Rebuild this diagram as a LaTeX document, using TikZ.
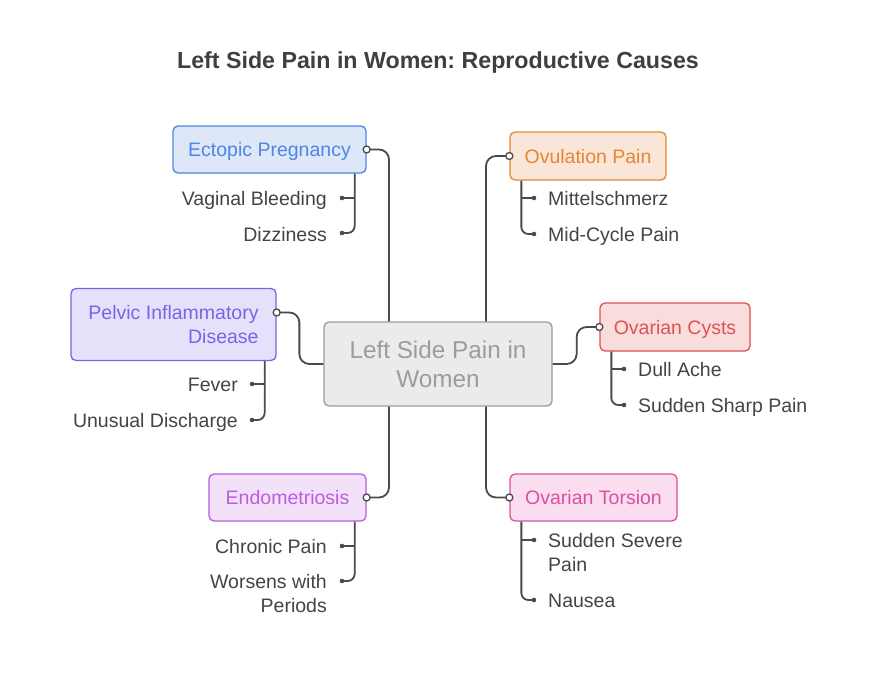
\documentclass[tikz,border=0pt]{standalone}
\usepackage{fontspec}
\setmainfont{Liberation Sans}
\usetikzlibrary{positioning}
\frenchspacing

\definecolor{linec}{HTML}{4A4A4A}
\definecolor{leafc}{HTML}{444444}
\definecolor{titlec}{HTML}{3F3F3F}
\definecolor{cenline}{HTML}{9C9C9C}
\definecolor{cenfill}{HTML}{EBEBEB}
\definecolor{epline}{HTML}{4C86E6}
\definecolor{epfill}{HTML}{DDE7F8}
\definecolor{ovline}{HTML}{E5872F}
\definecolor{ovfill}{HTML}{FAE6D8}
\definecolor{pidline}{HTML}{7B62E8}
\definecolor{pidfill}{HTML}{E6E1FB}
\definecolor{ocline}{HTML}{E05252}
\definecolor{ocfill}{HTML}{F9DCDC}
\definecolor{enline}{HTML}{BE5BE0}
\definecolor{enfill}{HTML}{F3E0F9}
\definecolor{otline}{HTML}{DD4FA0}
\definecolor{otfill}{HTML}{FADDEE}

\begin{document}
\begin{tikzpicture}[x=1pt,y=-1pt,
    box/.style={draw, rounded corners=5pt, line width=1.3pt, minimum height=47pt,
      inner sep=0pt, align=right, font=\fontsize{19.5}{24}\selectfont},
    onebox/.style={box, text height=14pt, text depth=0pt},
    leaf/.style={text=leafc, inner sep=0pt, font=\fontsize{19.5}{24}\selectfont},
    link/.style={draw=linec, line width=1.8pt, rounded corners=10pt},
    sublink/.style={draw=linec, line width=1.8pt, rounded corners=7pt},
    hole/.style={draw=linec, fill=white, line width=1.3pt},
    dot/.style={fill=linec}]
    % Fondo
    \fill[white] (0,0) rectangle (876,696);

    % Titulo
    \node[text=titlec, font=\bfseries\fontsize{23.2}{27}\selectfont] (title) at (438,63)
      {Left Side Pain in Women: Reproductive Causes};

    % Nodo central
    \node[box, fill=cenfill, draw=cenline, text=cenline, minimum width=228pt,
      minimum height=84pt, align=center, font=\fontsize{24.3}{29}\selectfont]
      (cen) at (438,364) {Left Side Pain in\\Women};

    % Causas
    \node[onebox, fill=epfill, draw=epline, text=epline, minimum width=193pt] (ep) at (269.5,149.5) {Ectopic Pregnancy};
    \node[onebox, fill=ovfill, draw=ovline, text=ovline, minimum width=156pt, minimum height=48pt] (ov) at (588,156) {Ovulation Pain};
    \node[box, fill=pidfill, draw=pidline, text=pidline, minimum width=205pt, minimum height=72pt] (pid) at (173.5,324.5) {Pelvic Inflammatory\\Disease};
    \node[onebox, fill=ocfill, draw=ocline, text=ocline, minimum width=150pt, minimum height=48pt] (oc) at (675,327) {Ovarian Cysts};
    \node[onebox, fill=enfill, draw=enline, text=enline, minimum width=157pt] (en) at (287.5,497.5) {Endometriosis};
    \node[onebox, fill=otfill, draw=otline, text=otline, minimum width=167pt] (ot) at (593.5,497.5) {Ovarian Torsion};

    % Sintomas (izquierda)
    \coordinate (vbd) at (342,198);
    \coordinate (dzd) at (342,233);
    \node[leaf, anchor=base east] (vb) at (327,205.5) {Vaginal Bleeding};
    \node[leaf, anchor=base east] (dz) at (327,241.5) {Dizziness};
    \coordinate (fvd) at (252,384);
    \coordinate (udd) at (252,420);
    \node[leaf, anchor=base east] (fv) at (238,391.5) {Fever};
    \node[leaf, anchor=base east] (ud) at (238,427.5) {Unusual Discharge};
    \coordinate (cpd) at (342,546);
    \coordinate (wpd) at (342,581);
    \node[leaf, anchor=base east] (cp) at (327,553.5) {Chronic Pain};
    \node[leaf, anchor=base east, align=right] (wp) at (327,612.5) {Worsens with\\Periods};

    % Sintomas (derecha)
    \coordinate (mid) at (534,198);
    \coordinate (mcd) at (534,234);
    \node[leaf, anchor=base west] (mi) at (548,205.5) {Mittelschmerz};
    \node[leaf, anchor=base west] (mc) at (548,241.5) {Mid-Cycle Pain};
    \coordinate (dad) at (624,369);
    \coordinate (ssd) at (624,405);
    \node[leaf, anchor=base west] (da) at (638,376.5) {Dull Ache};
    \node[leaf, anchor=base west] (ss) at (638,412.5) {Sudden Sharp Pain};
    \coordinate (svd) at (534,540);
    \coordinate (nad) at (534,600);
    \node[leaf, anchor=base west, align=left] (sv) at (548,571.5) {Sudden Severe\\Pain};
    \node[leaf, anchor=base west] (na) at (548,607.5) {Nausea};

    % Conexiones principales
    \draw[link] (ep.east) -| ([xshift=-49pt]cen.north);
    \draw[link] (ov.west) -| ([xshift=48pt]cen.north);
    \draw[link] ([yshift=12pt]pid.east) -| ([xshift=-24pt]cen.west) -- (cen.west);
    \draw[link] (oc.west) -| ([xshift=24pt]cen.east) -- (cen.east);
    \draw[link] (en.east) -| ([xshift=-49pt]cen.south);
    \draw[link] (ot.west) -| ([xshift=48pt]cen.south);

    % Conexiones secundarias
    \draw[sublink] ([xshift=-12pt]ep.south east) |- (dzd);
    \draw[sublink] ([xshift=-12pt]ep.south east |- vbd) -- (vbd);
    \draw[sublink] ([xshift=12pt]ov.south west) |- (mcd);
    \draw[sublink] ([xshift=12pt]ov.south west |- mid) -- (mid);
    \draw[sublink] ([xshift=-12pt]pid.south east) |- (udd);
    \draw[sublink] ([xshift=-12pt]pid.south east |- fvd) -- (fvd);
    \draw[sublink] ([xshift=12pt]oc.south west) |- (ssd);
    \draw[sublink] ([xshift=12pt]oc.south west |- dad) -- (dad);
    \draw[sublink] ([xshift=-12pt]en.south east) |- (wpd);
    \draw[sublink] ([xshift=-12pt]en.south east |- cpd) -- (cpd);
    \draw[sublink] ([xshift=12pt]ot.south west) |- (nad);
    \draw[sublink] ([xshift=12pt]ot.south west |- svd) -- (svd);

    % Puntos
    \foreach \d in {vbd,dzd,fvd,udd,cpd,wpd,mid,mcd,dad,ssd,svd,nad}
      \fill[dot] (\d) circle (2.3pt);
    \foreach \h in {ep.east,ov.west,oc.west,en.east,ot.west}
      \draw[hole] (\h) circle (3.5pt);
    \draw[hole] ([yshift=12pt]pid.east) circle (3.5pt);
\end{tikzpicture}
\end{document}
